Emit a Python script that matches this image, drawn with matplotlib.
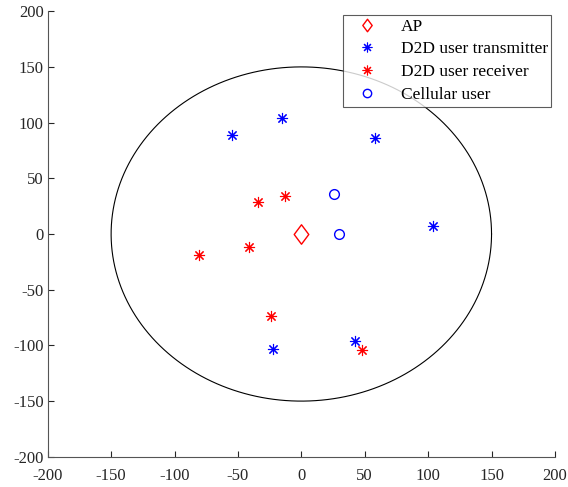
import numpy as np
import matplotlib.pyplot as plt
from matplotlib.path import Path

plt.rcParams['font.family'] = ['Liberation Serif', 'DejaVu Serif']
plt.rcParams['axes.unicode_minus'] = False

radius = 150
ap_x, ap_y = [0], [0]
tx_x = [-55, -15, 58, 104, -22, 42]
tx_y = [89, 104, 86, 7, -103, -96]
rx_x = [-34, -13, -41, -81, -24, 48]
rx_y = [29, 34, -12, -19, -74, -104]
cu_x = [26, 30]
cu_y = [36, 0]
ticks = [-200, -150, -100, -50, 0, 50, 100, 150, 200]

# wide MATLAB-style diamond
diamond = Path([(0, 1), (0.75, 0), (0, -1), (-0.75, 0), (0, 1)],
               [Path.MOVETO, Path.LINETO, Path.LINETO, Path.LINETO, Path.CLOSEPOLY])

fig = plt.figure(figsize=(5.68, 4.87), dpi=100)
ax = fig.add_axes([0.084, 0.062, 0.893, 0.915])

t = np.linspace(0, 2 * np.pi, 400)
ax.plot(radius * np.cos(t), radius * np.sin(t), color='k', lw=0.8)
ax.plot(ap_x, ap_y, marker=diamond, mfc='none', mec='red', ms=14, mew=1.0, ls='none')
ax.plot(tx_x, tx_y, marker=(8, 2, 0), color='blue', ms=8, mew=0.8, ls='none')
ax.plot(rx_x, rx_y, marker=(8, 2, 0), color='red', ms=8, mew=0.8, ls='none')
ax.plot(cu_x, cu_y, 'o', mfc='none', mec='blue', ms=7, mew=1.0, ls='none')

# legend proxies with smaller markers
h_ap, = ax.plot([], [], marker=diamond, mfc='none', mec='red', ms=9, mew=1.0, ls='none', label='AP')
h_tx, = ax.plot([], [], marker=(8, 2, 0), color='blue', ms=7, mew=0.8, ls='none', label='D2D user transmitter')
h_rx, = ax.plot([], [], marker=(8, 2, 0), color='red', ms=7, mew=0.8, ls='none', label='D2D user receiver')
h_cu, = ax.plot([], [], 'o', mfc='none', mec='blue', ms=6, mew=1.0, ls='none', label='Cellular user')

ax.set_xlim(-200, 200)
ax.set_ylim(-200, 200)
ax.set_xticks(ticks)
ax.set_yticks(ticks)
ax.tick_params(direction='in', length=4, labelsize=12, colors='#262626', width=0.8)
ax.tick_params(axis='x', pad=8)
ax.tick_params(axis='y', pad=3)
for s in ['top', 'right']:
    ax.spines[s].set_visible(False)
for s in ['left', 'bottom']:
    ax.spines[s].set_color('#555555')
    ax.spines[s].set_linewidth(0.8)

leg = ax.legend(handles=[h_ap, h_tx, h_rx, h_cu], loc='upper right', fontsize=12.5, frameon=True,
                fancybox=False, borderaxespad=0.2, handlelength=2.3, handletextpad=0.8,
                labelspacing=0.38, borderpad=0.22)
leg.get_frame().set_edgecolor('#333333')
leg.get_frame().set_linewidth(0.8)

fig.savefig('out.png', dpi=100)
